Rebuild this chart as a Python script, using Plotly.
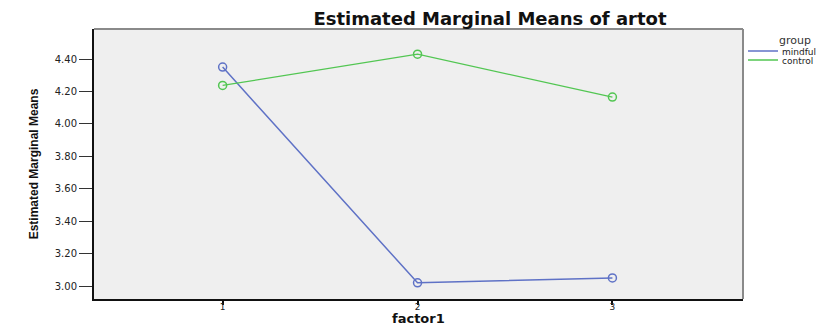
import plotly.graph_objects as go

# Estimated marginal means of artot by factor1 level and group
levels = [1, 2, 3]
mindful = [4.35, 3.02, 3.05]
control = [4.237, 4.43, 4.165]
y_ticks = [3.00, 3.20, 3.40, 3.60, 3.80, 4.00, 4.20, 4.40]
groups = ["mindful", "control"]

BLUE = "#5f72c6"
GREEN = "#52c652"
colors = [BLUE, GREEN]

fig = go.Figure()
for name, vals, col, lw in [("mindful", mindful, BLUE, 1.5), ("control", control, GREEN, 1.2)]:
    fig.add_trace(go.Scatter(
        x=levels, y=vals, name=name, mode="lines+markers", showlegend=False,
        line=dict(color=col, width=lw),
        marker=dict(symbol="circle-open", size=8, color=col, line=dict(width=1.5)),
    ))

tick_font = dict(family="DejaVu Sans", size=10, color="#222")

W, H = 837, 327
L, R, T, B = 94, 94, 29, 28

fig.update_layout(
    width=W, height=H,
    margin=dict(l=L, r=R, t=T, b=B, autoexpand=False),
    paper_bgcolor="white",
    plot_bgcolor="#efefef",
    showlegend=False,
    title=dict(
        text="<b>Estimated Marginal Means of artot</b>",
        font=dict(family="DejaVu Sans", size=18, color="#111"),
        x=490 / W, xanchor="center", xref="container",
        y=1 - 19 / H, yref="container", yanchor="middle",
    ),
    xaxis=dict(
        range=[0.34, 3.67], tickvals=levels, ticktext=[str(v) for v in levels],
        showgrid=False, zeroline=False, automargin=False,
        showline=True, linecolor="#111", linewidth=2,
        ticks="outside", ticklen=4, tickcolor="#111", tickwidth=1.5,
        tickfont=dict(family="DejaVu Sans", size=9, color="#222"),
        ticklabelstandoff=-6,
    ),
    yaxis=dict(
        range=[2.92, 4.585], tickvals=y_ticks, ticktext=[f"{v:.2f}" for v in y_ticks],
        showgrid=False, zeroline=False, automargin=False,
        showline=True, linecolor="#111", linewidth=2,
        ticks="outside", ticklen=13, tickcolor="#333", tickwidth=1,
        tickfont=tick_font,
        title=dict(text="<b>Estimated Marginal Means</b>",
                   font=dict(family="Liberation Sans, Arial, sans-serif", size=12, color="#111"),
                   standoff=14),
    ),
)

# gray frame on the top and right of the plot area
fig.add_shape(type="line", xref="paper", yref="paper", x0=0, x1=1, y0=1, y1=1,
              line=dict(color="#8a8a8a", width=2))
fig.add_shape(type="line", xref="paper", yref="paper", x0=1, x1=1, y0=0, y1=1,
              line=dict(color="#8a8a8a", width=2))

pw, ph = W - L - R, H - T - B
def px_x(x):
    return (x - L) / pw
def px_y(y):
    return (H - B - y) / ph

# x-axis title sits low, against the page edge
fig.add_annotation(text="<b>factor1</b>", xref="paper", yref="paper", x=0.5, y=px_y(327),
                   xanchor="center", yanchor="bottom", showarrow=False, borderpad=0,
                   font=dict(family="DejaVu Sans", size=13, color="#111"))

# compact legend on the right: title, then a line sample and label per group
fig.add_annotation(text="group", xref="paper", yref="paper", x=px_x(795), y=px_y(40),
                   xanchor="center", yanchor="middle", showarrow=False, borderpad=0,
                   font=dict(family="DejaVu Sans", size=11, color="#333"))
for i, (g, col) in enumerate(zip(groups, colors)):
    yy = 51 + 9 * i
    fig.add_shape(type="line", xref="paper", yref="paper",
                  x0=px_x(748), x1=px_x(778), y0=px_y(yy), y1=px_y(yy),
                  line=dict(color=col, width=1.5))
    fig.add_annotation(text=g, xref="paper", yref="paper", x=px_x(781), y=px_y(yy),
                       xanchor="left", yanchor="middle", showarrow=False,
                       borderpad=0, height=9, valign="middle",
                       font=dict(family="DejaVu Sans", size=9, color="#222"))

fig.write_html("out.html")
